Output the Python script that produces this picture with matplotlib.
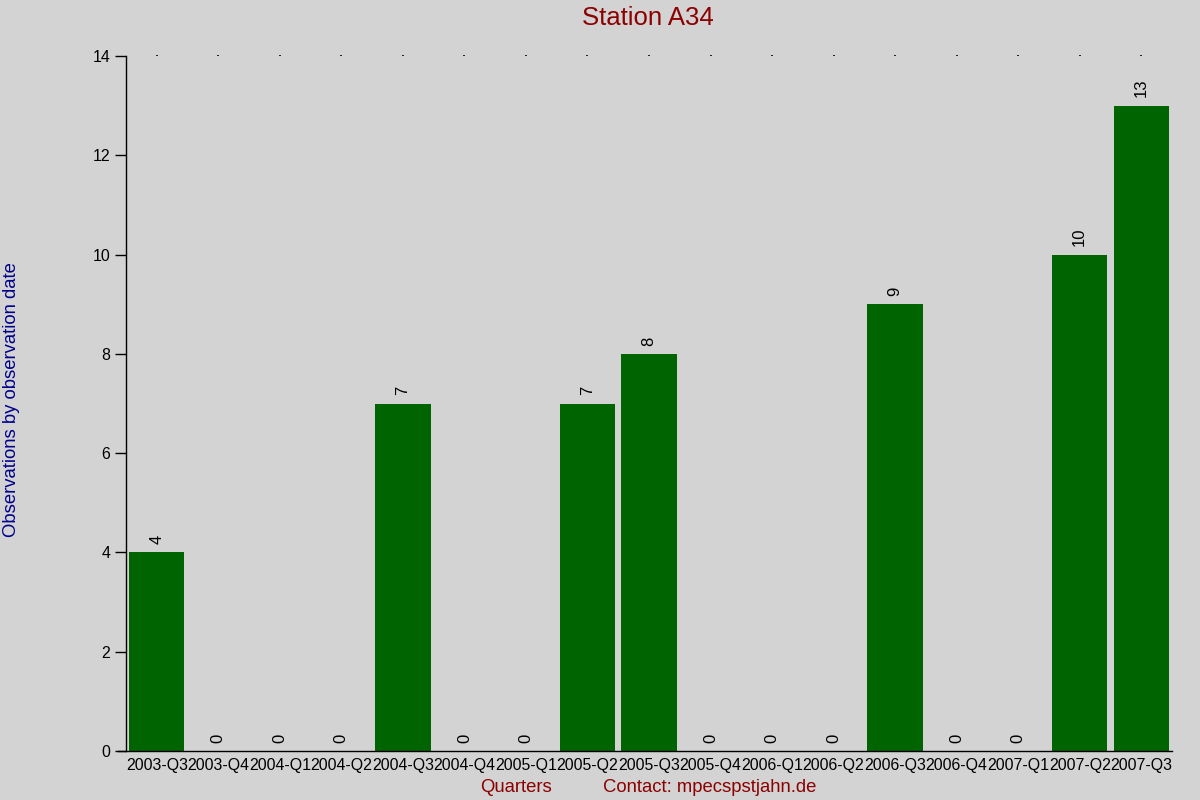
import matplotlib
matplotlib.use("Agg")
import matplotlib.pyplot as plt

quarters = ["2003-Q3", "2003-Q4", "2004-Q1", "2004-Q2", "2004-Q3", "2004-Q4",
            "2005-Q1", "2005-Q2", "2005-Q3", "2005-Q4", "2006-Q1", "2006-Q2",
            "2006-Q3", "2006-Q4", "2007-Q1", "2007-Q2", "2007-Q3"]
counts = [4, 0, 0, 0, 7, 0, 0, 7, 8, 0, 0, 0, 9, 0, 0, 10, 13]
y_ticks = [0, 2, 4, 6, 8, 10, 12, 14]

plt.rcParams['font.family'] = ['Liberation Sans', 'DejaVu Sans']

bg = '#d3d3d3'
fig = plt.figure(figsize=(12, 8), dpi=100, facecolor=bg)
ax = fig.add_axes([0.105, 0.06125, 0.8717, 0.86875], facecolor=bg)

x = list(range(len(quarters)))
ax.bar(x, counts, width=0.9, color='#006400')
for xi, v in zip(x, counts):
    ax.annotate(str(v), (xi, v), xytext=(0, 6), textcoords='offset points',
                rotation=90, ha='center', va='bottom', fontsize=12)

ax.set_xlim(-0.5, len(quarters) - 0.5)
ax.set_ylim(0, 14)
ax.set_yticks(y_ticks)
ax.set_xticks(x)
ax.set_xticklabels(quarters, fontsize=11.4)
ax.tick_params(axis='y', labelsize=11.4, length=8, width=1, direction='out')
ax.tick_params(axis='x', bottom=False, top=True, length=1, width=1.2, pad=4)

for s in ['top', 'right']:
    ax.spines[s].set_visible(False)
ax.spines['left'].set_linewidth(1)
ax.spines['bottom'].set_linewidth(1)
ax.spines['bottom'].set_bounds(-0.5 - 8 / 61.5, len(quarters) - 0.5)

fig.text(0.54, 0.977, "Station A34", ha='center', va='center',
         fontsize=18.5, color='#8b0000')
fig.text(0.0095, 0.5, "Observations by observation date", rotation=90,
         ha='center', va='center', fontsize=13.3, color='#00008b')
fig.text(0.43, 0.016, "Quarters", ha='center', va='center',
         fontsize=13.3, color='#8b0000')
fig.text(0.591, 0.016, "Contact: mpecspstjahn.de", ha='center', va='center',
         fontsize=13.3, color='#8b0000')

fig.savefig("out.png", dpi=100, facecolor=bg)
